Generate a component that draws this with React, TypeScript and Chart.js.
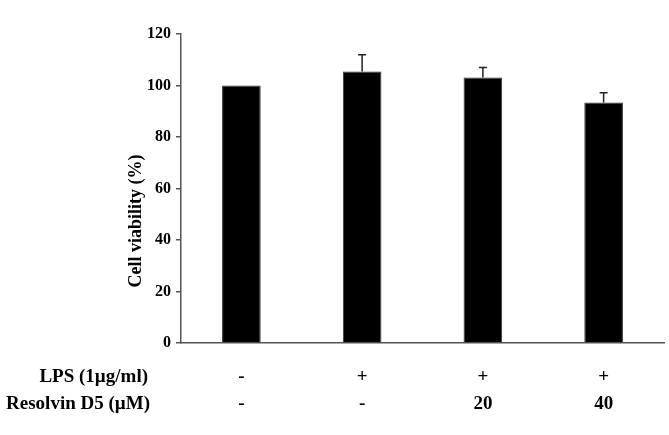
import React, { useEffect, useRef } from "react";
import { Chart, registerables } from "chart.js";

Chart.register(...registerables);

const categories = ["c1", "c2", "c3", "c4"];
const viability = [100, 105.4, 103.1, 93.4];
const errors = [0, 6.5, 3.9, 3.8];
const lpsRow = ["-", "+", "+", "+"];
const resolvinRow = ["-", "-", "20", "40"];
const rowNames = ["LPS (1\u00b5g/ml)", "Resolvin D5 (\u00b5M)"];
const yTitle = "Cell viability (%)";

const FONT = "'Liberation Serif', 'Times New Roman', serif";

const overlayPlugin = {
  id: "overlay",
  afterDatasetsDraw(chart: any) {
    const ctx = chart.ctx;
    const x = chart.scales.x;
    const y = chart.scales.y;
    const meta = chart.getDatasetMeta(0);
    ctx.save();
    // error bars
    ctx.strokeStyle = "#222";
    ctx.lineWidth = 1.5;
    viability.forEach((v, i) => {
      const e = errors[i];
      if (!e) return;
      const px = meta.data[i].x;
      const top = y.getPixelForValue(v);
      const cap = y.getPixelForValue(v + e);
      ctx.beginPath();
      ctx.moveTo(px, top);
      ctx.lineTo(px, cap);
      ctx.moveTo(px - 4, cap);
      ctx.lineTo(px + 4, cap);
      ctx.stroke();
    });
    // bottom rows
    ctx.fillStyle = "#000";
    ctx.textBaseline = "middle";
    ctx.font = `bold 19px ${FONT}`;
    ctx.textAlign = "right";
    ctx.fillText(rowNames[0], 148, 377);
    ctx.fillText(rowNames[1], 150, 404);
    ctx.textAlign = "center";
    categories.forEach((c, i) => {
      const px = x.getPixelForValue(i);
      ctx.fillText(lpsRow[i], px, 377);
      ctx.fillText(resolvinRow[i], px, 404);
    });
    // y title
    ctx.font = `bold 18px ${FONT}`;
    ctx.translate(136, 221);
    ctx.rotate(-Math.PI / 2);
    ctx.fillText(yTitle, 0, 0);
    ctx.restore();
  },
};

export default function App() {
  const ref = useRef<HTMLCanvasElement>(null);
  useEffect(() => {
    if (!ref.current) return;
    const chart = new Chart(ref.current, {
      type: "bar",
      data: {
        labels: categories,
        datasets: [
          {
            data: viability,
            backgroundColor: "#000",
            borderColor: "#333",
            borderWidth: 1,
            barPercentage: 0.32,
            categoryPercentage: 1,
          },
        ],
      },
      options: {
        animation: false,
        responsive: false,
        maintainAspectRatio: false,
        layout: { padding: { top: 34, right: 5, left: 0, bottom: 0 } },
        plugins: { legend: { display: false }, tooltip: { enabled: false } },
        scales: {
          x: {
            grid: { display: false, drawTicks: false },
            border: { display: true, color: "#555", width: 1.5 },
            ticks: { display: false },
            afterFit(scale: any) {
              scale.height = 92;
            },
          },
          y: {
            min: 0,
            max: 120,
            ticks: {
              stepSize: 20,
              color: "#000",
              padding: 5,
              font: { family: FONT, size: 16, weight: "bold" },
            },
            grid: {
              drawOnChartArea: false,
              drawTicks: true,
              tickLength: 5,
              color: "#555",
              lineWidth: 1.5,
            },
            border: { display: true, color: "#555", width: 1.5 },
            afterFit(scale: any) {
              scale.width = 181;
            },
          },
        },
      },
      plugins: [overlayPlugin],
    });
    return () => chart.destroy();
  }, []);
  return (
    <div style={{ position: "fixed", left: 0, top: 0, width: 669, height: 435, background: "#fff" }}>
      <canvas ref={ref} width={669} height={435} style={{ width: 669, height: 435 }} />
    </div>
  );
}
